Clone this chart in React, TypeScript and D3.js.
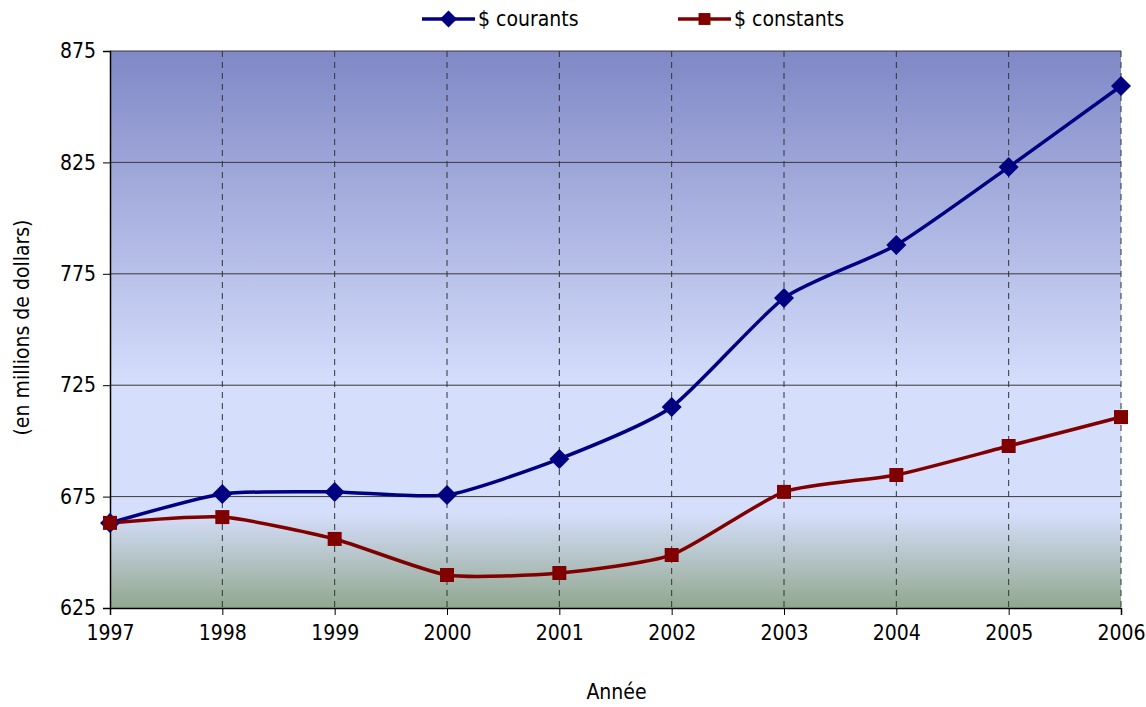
import { useEffect, useRef } from "react";
import * as d3 from "d3";

// data
const years = [1997, 1998, 1999, 2000, 2001, 2002, 2003, 2004, 2005, 2006];
const courants = [663.2, 676.2, 677.1, 675.7, 691.9, 715.2, 764.1, 787.9, 822.9, 859.3];
const constants = [663.2, 665.8, 656.0, 639.8, 640.7, 648.8, 677.1, 684.7, 697.7, 710.7];
const yTicks = [625, 675, 725, 775, 825, 875];

const FONT = "'Liberation Sans Narrow', 'Arial Narrow', 'DejaVu Sans Condensed', 'Liberation Sans', sans-serif";

export default function App() {
  const ref = useRef<SVGSVGElement>(null);

  useEffect(() => {
    if (!ref.current) return;
    const width = 1146;
    const height = 707;
    const svg = d3.select(ref.current);
    svg.selectAll("*").remove();

    const margin = { top: 51, right: 25, bottom: 99, left: 110 };
    const innerWidth = width - margin.left - margin.right;
    const innerHeight = height - margin.top - margin.bottom;

    // background gradient of the plot area
    const defs = svg.append("defs");
    const grad = defs
      .append("linearGradient")
      .attr("id", "bg")
      .attr("x1", 0)
      .attr("y1", 0)
      .attr("x2", 0)
      .attr("y2", 1);
    grad.append("stop").attr("offset", "0").attr("stop-color", "#8088c6");
    grad.append("stop").attr("offset", "0.6").attr("stop-color", "#d5defb");
    grad.append("stop").attr("offset", "0.83").attr("stop-color", "#d5defb");
    grad.append("stop").attr("offset", "1").attr("stop-color", "#91a78e");

    const g = svg
      .append("g")
      .attr("transform", `translate(${margin.left},${margin.top})`);

    const x = d3
      .scaleLinear()
      .domain([years[0], years[years.length - 1]])
      .range([0, innerWidth]);

    const y = d3.scaleLinear().domain([625, 875]).range([innerHeight, 0]);

    g.append("rect")
      .attr("width", innerWidth)
      .attr("height", innerHeight)
      .attr("fill", "url(#bg)");

    // horizontal grid
    g.selectAll("line.hgrid")
      .data(yTicks.slice(1))
      .join("line")
      .attr("class", "hgrid")
      .attr("x1", 0)
      .attr("x2", innerWidth)
      .attr("y1", (d) => y(d))
      .attr("y2", (d) => y(d))
      .attr("stroke", "#3a3a3a")
      .attr("stroke-width", 1);

    // vertical dashed grid
    g.selectAll("line.vgrid")
      .data(years.slice(1))
      .join("line")
      .attr("class", "vgrid")
      .attr("x1", (d) => x(d))
      .attr("x2", (d) => x(d))
      .attr("y1", 0)
      .attr("y2", innerHeight)
      .attr("stroke", "#333")
      .attr("stroke-width", 1)
      .attr("stroke-dasharray", "6,5");

    // axes
    const yAxis = g
      .append("g")
      .call(d3.axisLeft(y).tickValues(yTicks).tickSize(7).tickPadding(7).tickFormat(d3.format("d")));
    yAxis.select(".domain").attr("stroke", "#000").attr("stroke-width", 1.5);
    yAxis.selectAll("text").style("font-family", FONT).style("font-size", "21px").attr("fill", "#000");

    const xAxis = g
      .append("g")
      .attr("transform", `translate(0,${innerHeight})`)
      .call(d3.axisBottom(x).tickValues(years).tickSize(7).tickPadding(10).tickFormat(d3.format("d")));
    xAxis.select(".domain").attr("stroke", "#000").attr("stroke-width", 1.5);
    xAxis.selectAll("text").style("font-family", FONT).style("font-size", "21px").attr("fill", "#000");

    // lines (Excel-style smoothing)
    const line = d3
      .line<number>()
      .x((_, i) => x(years[i]))
      .y((d) => y(d))
      .curve(d3.curveCardinal.tension(0.4));

    const series = [
      { name: "$ courants", values: courants, color: "#000080", marker: "diamond" },
      { name: "$ constants", values: constants, color: "#800000", marker: "square" },
    ];

    series.forEach((s) => {
      g.append("path")
        .datum(s.values)
        .attr("fill", "none")
        .attr("stroke", s.color)
        .attr("stroke-width", 3.5)
        .attr("stroke-linejoin", "round")
        .attr("d", line);
    });

    const diamond = "M0,-10L10,0L0,10L-10,0Z";
    const square = "M-7,-7H7V7H-7Z";

    series.forEach((s) => {
      g.selectAll(`path.m-${s.marker}`)
        .data(s.values)
        .join("path")
        .attr("class", `m-${s.marker}`)
        .attr("transform", (d, i) => `translate(${x(years[i])},${y(d)})`)
        .attr("d", s.marker === "diamond" ? diamond : square)
        .attr("fill", s.color);
    });

    // legend
    const legendX = [422, 678];
    series.forEach((s, i) => {
      const lg = svg.append("g").attr("transform", `translate(${legendX[i]},19)`);
      lg.append("line")
        .attr("x1", 0)
        .attr("x2", 53)
        .attr("stroke", s.color)
        .attr("stroke-width", 3.5);
      lg.append("path")
        .attr("transform", "translate(26.5,0) scale(0.85)")
        .attr("d", s.marker === "diamond" ? diamond : square)
        .attr("fill", s.color);
      lg.append("text")
        .attr("x", 56)
        .attr("dy", "0.35em")
        .style("font-family", FONT)
        .style("font-size", "21px")
        .text(s.name);
    });

    // axis titles
    svg.append("text")
      .attr("x", margin.left + innerWidth / 2 + 1)
      .attr("y", 692)
      .attr("dy", "0.35em")
      .attr("text-anchor", "middle")
      .style("font-family", FONT)
      .style("font-size", "21px")
      .text("Année");

    svg.append("text")
      .attr("transform", `translate(22,${margin.top + innerHeight / 2 - 2}) rotate(-90)`)
      .attr("dy", "0.35em")
      .attr("text-anchor", "middle")
      .style("font-family", FONT)
      .style("font-size", "21px")
      .text("(en millions de dollars)");
  }, []);

  return (
    <svg
      ref={ref}
      width={1146}
      height={707}
      style={{ position: "absolute", left: 0, top: 0, background: "#fff" }}
    ></svg>
  );
}
